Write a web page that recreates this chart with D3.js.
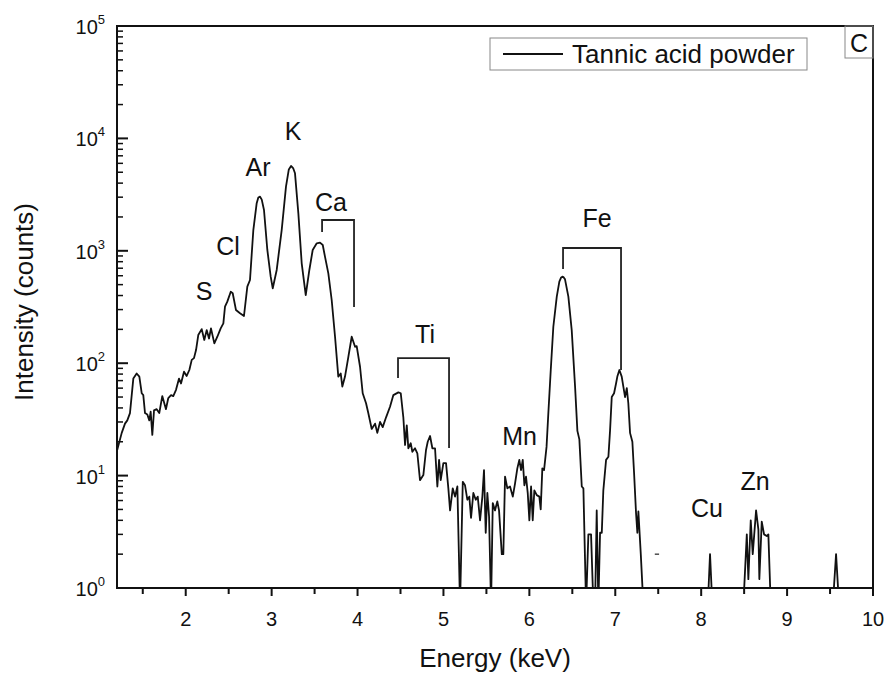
<!DOCTYPE html>
<html><head><meta charset="utf-8">
<script src="https://cdn.jsdelivr.net/npm/d3@7"></script>
<style>body{margin:0;background:#fff}svg{display:block}text{font-family:"Liberation Sans",Arial,sans-serif;fill:#111}</style>
</head><body><svg id="c" width="891" height="677"></svg>
<script>
// ---- data ----
const energy = [1.203,1.255,1.293,1.320,1.351,1.390,1.429,1.460,1.488,1.506,1.526,1.553,1.576,1.592,1.611,1.631,1.662,1.692,1.727,1.770,1.797,1.829,1.855,1.887,1.922,1.945,1.980,2.011,2.042,2.070,2.096,2.120,2.146,2.186,2.216,2.244,2.271,2.294,2.333,2.368,2.407,2.438,2.457,2.484,2.524,2.547,2.585,2.632,2.678,2.717,2.748,2.787,2.826,2.845,2.865,2.885,2.911,2.950,2.989,3.013,3.059,3.117,3.167,3.200,3.226,3.250,3.272,3.311,3.350,3.397,3.439,3.478,3.525,3.563,3.595,3.621,3.660,3.699,3.738,3.776,3.804,3.823,3.854,3.893,3.932,3.971,3.990,4.029,4.060,4.099,4.125,4.165,4.204,4.230,4.262,4.293,4.332,4.378,4.417,4.475,4.503,4.533,4.553,4.573,4.591,4.619,4.638,4.669,4.696,4.727,4.766,4.797,4.817,4.844,4.871,4.902,4.929,4.949,4.968,4.999,5.030,5.057,5.077,5.108,5.135,5.162,5.193,5.225,5.251,5.278,5.301,5.321,5.348,5.376,5.399,5.426,5.453,5.472,5.492,5.511,5.531,5.554,5.574,5.600,5.627,5.647,5.679,5.697,5.717,5.744,5.775,5.807,5.833,5.860,5.883,5.903,5.923,5.942,5.961,5.981,6.000,6.020,6.039,6.058,6.086,6.116,6.132,6.151,6.171,6.200,6.221,6.249,6.279,6.319,6.349,6.370,6.384,6.400,6.415,6.454,6.493,6.532,6.559,6.582,6.610,6.629,6.660,6.687,6.718,6.745,6.765,6.784,6.803,6.823,6.843,6.861,6.893,6.920,6.939,6.959,6.986,7.009,7.024,7.048,7.075,7.094,7.114,7.134,7.152,7.172,7.199,7.219,7.242,7.257,7.269,7.297,7.327,8.077,8.103,8.130,8.491,8.531,8.549,8.577,8.600,8.639,8.666,8.677,8.705,8.732,8.763,8.782,8.810,9.532,9.570,9.605,10.0];
const counts = [17,24,29,31,36,73,81,76,54,52,36,35,31,37,23,38,39,36,51,39,49,52,51,58,73,66,84,77,87,107,111,131,178,201,161,197,166,204,150,172,204,226,318,353,432,419,297,278,263,480,550,1530,2650,2980,3030,2850,2306,1017,589,464,675,1530,3720,5300,5680,5450,4890,2155,774,404,675,1017,1166,1181,1127,887,630,365,172,76,81,62,76,114,172,140,142,93,54,44,36,26,29,24,30,27,33,41,52,55,54,33,18.7,28,17.5,19.4,16.3,17.5,15.8,9.1,10.1,16.9,20,22.5,17.5,17.5,8.0,13.8,9.1,12.9,12.9,7.7,4.9,7.7,6.5,8.0,0,8.8,8.2,6.1,6.5,4.2,7.0,6.1,6.5,4.0,6.5,11.2,3.1,7.0,4.3,0,5.7,4.9,5.9,4.9,2.0,2.0,9.8,7.7,8.0,6.5,8.5,11.6,13.8,11.2,13.8,8.2,9.8,7.0,4.0,8.0,4.0,7.4,6.7,6.5,5.0,11.6,11.2,18,36,87,211,391,531,580,589,580,557,391,197,62,25,21,8,7.7,0,3.0,3.0,0,0,4.9,0,3.1,3.1,7.4,13.8,14.7,25,50,54,66,76,87,76,62,50,60,44,24,20,10.5,4.6,3.1,4.8,2.0,0,0,2.0,0,0,3.0,1.2,4.0,2.0,4.9,3.3,1.2,3.9,3.0,2.9,3.0,0,0,2.0,0,0];
const xTicks = [2,3,4,5,6,7,8,9,10];
const yTickExponents = [0,1,2,3,4,5];
const seriesName = "Tannic acid powder";
const panelLetter = "C";
const elementNames = ["S","Cl","Ar","K","Ca","Ti","Mn","Fe","Cu","Zn"];
const elementE = [2.213,2.492,2.841,3.249,3.691,4.786,5.886,6.788,8.068,8.627];
const elementC = [365,918,4630,9680,2260,151,18.7,1638,4.28,7.45];
// brackets: [left E, right E, top count, left-end count, right-end count]
const bracketCa = [3.587,3.959,1880,1470,316];
const bracketTi = [4.471,5.065,111,74,17.6];
const bracketFe = [6.392,7.067,1059,689,87];
const strayMark = [7.46,7.51,2.0];

// ---- drawing ----
const svg = d3.select("#c");
const L=117,R=873,T=26,B=588;
const x = d3.scaleLinear().domain([1.2,10]).range([L,R]);
const y = d3.scaleLog().domain([1,1e5]).range([B,T]);

svg.append("defs").append("clipPath").attr("id","clip")
  .append("rect").attr("x",L).attr("y",T).attr("width",R-L).attr("height",B-T);

const pts = energy.map((e,i)=>[e,counts[i]]);
svg.append("path").datum(pts)
  .attr("clip-path","url(#clip)")
  .attr("fill","none").attr("stroke","#111").attr("stroke-width",1.8).attr("stroke-linejoin","round")
  .attr("d", d3.line().x(d=>x(d[0])).y(d=>y(Math.max(d[1],0.7))));

// stray dash
svg.append("line").attr("x1",x(strayMark[0])).attr("x2",x(strayMark[1]))
  .attr("y1",y(strayMark[2])).attr("y2",y(strayMark[2])).attr("stroke","#222").attr("stroke-width",1.2);

// frame
svg.append("rect").attr("x",L).attr("y",T).attr("width",R-L).attr("height",B-T)
  .attr("fill","none").attr("stroke","#111").attr("stroke-width",2);

// x axis (ticks outward)
const xMinor = d3.range(1.5,10,1);
const gx = svg.append("g");
gx.selectAll("line.maj").data(xTicks).enter().append("line")
  .attr("x1",d=>x(d)).attr("x2",d=>x(d)).attr("y1",B).attr("y2",B+8).attr("stroke","#111").attr("stroke-width",2);
gx.selectAll("line.min").data(xMinor).enter().append("line")
  .attr("x1",d=>x(d)).attr("x2",d=>x(d)).attr("y1",B).attr("y2",B+6).attr("stroke","#111").attr("stroke-width",2);
gx.selectAll("text").data(xTicks).enter().append("text")
  .attr("x",d=>x(d)).attr("y",B+38).attr("text-anchor","middle").attr("font-size",20).text(d=>d);

// y axis (ticks inward)
const gy = svg.append("g");
const yMinor = [];
yTickExponents.slice(0,-1).forEach(p=>{for(let m=2;m<10;m++) yMinor.push(m*Math.pow(10,p));});
gy.selectAll("line.maj").data(yTickExponents).enter().append("line")
  .attr("x1",L).attr("x2",L+11).attr("y1",d=>y(Math.pow(10,d))).attr("y2",d=>y(Math.pow(10,d))).attr("stroke","#111").attr("stroke-width",2);
gy.selectAll("line.min").data(yMinor).enter().append("line")
  .attr("x1",L).attr("x2",L+6).attr("y1",d=>y(d)).attr("y2",d=>y(d)).attr("stroke","#111").attr("stroke-width",1.5);
const yl = gy.selectAll("text").data(yTickExponents).enter().append("text")
  .attr("x",105).attr("y",d=>y(Math.pow(10,d))+8).attr("text-anchor","end").attr("font-size",20);
yl.append("tspan").text("10");
yl.append("tspan").attr("dy",-10).attr("font-size",13).text(d=>d);

// axis titles
svg.append("text").attr("x",(L+R)/2).attr("y",667).attr("text-anchor","middle").attr("font-size",26).text("Energy (keV)");
svg.append("text").attr("transform","translate(33,"+((T+B)/2-5)+") rotate(-90)").attr("text-anchor","middle").attr("font-size",26).text("Intensity (counts)");

// element labels
svg.selectAll("text.el").data(elementNames).enter().append("text").attr("class","el")
  .attr("x",(d,i)=>x(elementE[i])).attr("y",(d,i)=>y(elementC[i])).attr("text-anchor","middle").attr("font-size",25).text(d=>d);

// brackets
[bracketCa,bracketTi,bracketFe].forEach(b=>{
  const p = d3.path();
  p.moveTo(x(b[0]),y(b[3])); p.lineTo(x(b[0]),y(b[2])); p.lineTo(x(b[1]),y(b[2])); p.lineTo(x(b[1]),y(b[4]));
  svg.append("path").attr("d",p.toString()).attr("fill","none").attr("stroke","#222").attr("stroke-width",1.8);
});

// legend
svg.append("rect").attr("x",490).attr("y",38).attr("width",317).attr("height",32).attr("fill","#fff").attr("stroke","#888").attr("stroke-width",1);
svg.append("line").attr("x1",503).attr("x2",563).attr("y1",54).attr("y2",54).attr("stroke","#111").attr("stroke-width",1.8);
svg.append("text").attr("x",572).attr("y",63).attr("font-size",26).text(seriesName);

// panel letter
svg.append("rect").attr("x",845).attr("y",T).attr("width",R-845).attr("height",32).attr("fill","none").attr("stroke","#888").attr("stroke-width",1);
svg.append("text").attr("x",859).attr("y",52).attr("text-anchor","middle").attr("font-size",25).text(panelLetter);
</script></body></html>
